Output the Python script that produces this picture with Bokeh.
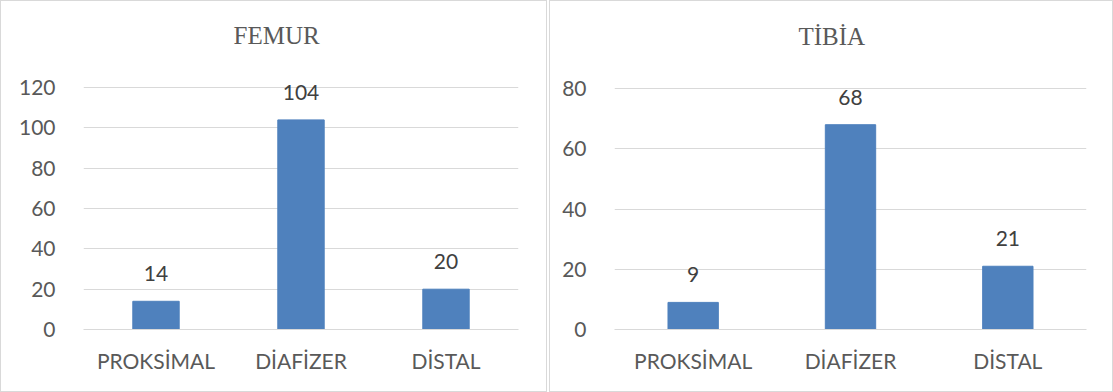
from bokeh.plotting import figure
from bokeh.layouts import row
from bokeh.models import ColumnDataSource, LabelSet, FixedTicker
from bokeh.core.properties import value
from bokeh.embed import file_html
from bokeh.resources import INLINE

categories = ["PROKSİMAL", "DİAFİZER", "DİSTAL"]
femur_values = [14, 104, 20]
tibia_values = [9, 68, 21]
femur_ticks = [0, 20, 40, 60, 80, 100, 120]
tibia_ticks = [0, 20, 40, 60, 80]

BAR = "#4F81BD"
GRID = "#D9D9D9"
TXT = "#595959"
LBL = "#404040"
TICK_FONT = "Lato"
FS = "21px"


def make_chart(title, values, ticks, y_top, width, left, right, top, title_offset, standoff):
    src = ColumnDataSource(dict(cat=categories, val=values,
                                txt=[str(v) for v in values]))
    p = figure(x_range=categories, y_range=(0, y_top), width=width, height=392,
               output_backend="svg", toolbar_location=None, title=title,
               min_border_left=left, min_border_right=right,
               min_border_top=top, min_border_bottom=64,
               styles={"border": "1px solid #D9D9D9", "box-sizing": "border-box"})
    p.vbar(x="cat", top="val", width=0.32, source=src, color=BAR)
    labels = LabelSet(x="cat", y="val", text="txt", source=src, y_offset=20,
                      text_align="center", text_baseline="alphabetic",
                      text_font=value(TICK_FONT), text_font_size=value(FS),
                      text_color=LBL)
    p.add_layout(labels)
    p.title.align = "left"
    p.title.text_font = "Liberation Serif"
    p.title.text_font_size = "25px"
    p.title.text_font_style = "normal"
    p.title.text_color = TXT
    p.title.offset = title_offset
    p.title.standoff = standoff
    p.outline_line_color = None
    p.xgrid.grid_line_color = None
    p.ygrid.grid_line_color = GRID
    p.ygrid.ticker = FixedTicker(ticks=ticks)
    p.yaxis.ticker = FixedTicker(ticks=ticks)
    p.yaxis.axis_line_color = None
    p.yaxis.major_tick_line_color = None
    p.yaxis.minor_tick_line_color = None
    p.yaxis.major_label_text_font = TICK_FONT
    p.yaxis.major_label_text_font_size = FS
    p.yaxis.major_label_text_color = TXT
    p.yaxis.major_label_standoff = 22
    p.xaxis.axis_line_color = GRID
    p.xaxis.major_tick_line_color = None
    p.xaxis.minor_tick_line_color = None
    p.xaxis.major_label_text_font = TICK_FONT
    p.xaxis.major_label_text_font_size = FS
    p.xaxis.major_label_text_color = TXT
    p.xaxis.major_label_standoff = 12
    p.background_fill_color = "white"
    p.border_fill_color = "white"
    return p


p1 = make_chart("FEMUR", femur_values, femur_ticks, 130, 547, 82, 30, 66, 150, 37)
p2 = make_chart("TİBİA", tibia_values, tibia_ticks, 87, 564, 64, 28, 65, 184, 36)
layout = row(p1, p2, spacing=2)

open("out.html", "w").write(file_html(layout, INLINE))
